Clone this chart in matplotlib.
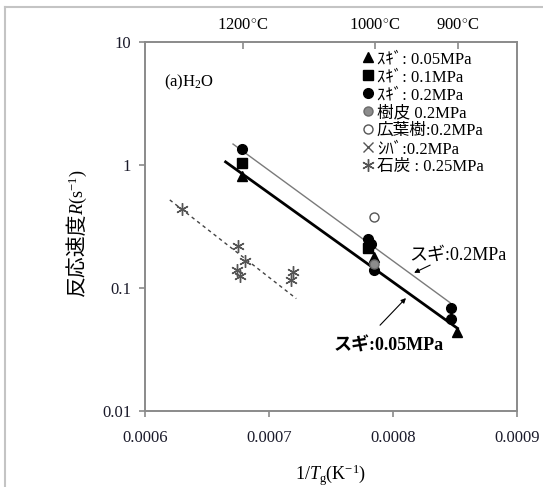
import matplotlib
matplotlib.use('Agg')
import matplotlib.pyplot as plt
from matplotlib.lines import Line2D

plt.rcParams['font.family'] = ['Liberation Serif', 'Noto Sans CJK JP', 'DejaVu Sans']
plt.rcParams['mathtext.fontset'] = 'custom'
plt.rcParams['mathtext.rm'] = 'Liberation Serif'
plt.rcParams['mathtext.it'] = 'Liberation Serif:italic'

# Sugi (cedar) at three pressures
sugi005_x = [0.000678, 0.000785, 0.000852]
sugi005_y = [0.82, 0.177, 0.044]
sugi01_x = [0.000678, 0.000780]
sugi01_y = [1.03, 0.21]
sugi02_x = [0.000678, 0.000780, 0.000782, 0.000785, 0.000847, 0.000847]
sugi02_y = [1.35, 0.25, 0.23, 0.141, 0.069, 0.056]
# other biomass and coal
bark_x = [0.000785]
bark_y = [0.158]
hardwood_x = [0.000785]
hardwood_y = [0.38]
shiba_x = []
shiba_y = []
coal_x = [0.000630, 0.000675, 0.000681, 0.000674, 0.000677, 0.000719, 0.000718]
coal_y = [0.44, 0.22, 0.167, 0.141, 0.126, 0.134, 0.117]

# fitted lines (end points)
fit02_x = [0.000671, 0.000846]
fit02_y = [1.48, 0.076]
fit005_x = [0.000665, 0.000852]
fit005_y = [1.06, 0.047]
fitcoal_x = [0.000620, 0.000722]
fitcoal_y = [0.52, 0.082]

top_temps_c = [1200, 1000, 900]
x_ticks = [0.0006, 0.0007, 0.0008, 0.0009]
y_ticks = [0.01, 0.1, 1, 10]
y_tick_labels = ['0.01', '0.1', '1', '10']

spine_col = '#8a8a8a'

fig = plt.figure(figsize=(5.43, 4.87), dpi=100)
ax = fig.add_axes([145 / 543, 1 - 411 / 487, 372 / 543, 369 / 487])

# fitted lines
ax.plot(fit02_x, fit02_y, color='#7a7a7a', lw=1.0)
ax.plot(fit005_x, fit005_y, color='black', lw=2.0)
ax.plot(fitcoal_x, fitcoal_y, color='#444444', lw=1.0, linestyle=(0, (2.5, 2.5)))

# data points
ax.plot(sugi005_x, sugi005_y, '^', color='black', ms=7, ls='none', label='ｽｷﾞ: 0.05MPa')
ax.plot(sugi01_x, sugi01_y, 's', color='black', ms=6.5, ls='none', label='ｽｷﾞ: 0.1MPa')
ax.plot(sugi02_x, sugi02_y, 'o', color='black', ms=7, ls='none', label='ｽｷﾞ: 0.2MPa')
ax.plot(bark_x, bark_y, 'o', color='#8c8c8c', mec='#6a6a6a', ms=6.5, ls='none', label='樹皮 0.2MPa')
ax.plot(hardwood_x, hardwood_y, 'o', mfc='white', mec='#555555', ms=6.5, ls='none', label='広葉樹:0.2MPa')
ax.plot(shiba_x, shiba_y, 'x', color='#555555', ms=7, ls='none', label='ｼﾊﾞ:0.2MPa')
ax.plot(coal_x, coal_y, marker=(6, 2, 0), color='#555555', ms=9, mew=1.0, ls='none', label='石炭 : 0.25MPa')

ax.set_yscale('log')
ax.set_xlim(0.0006, 0.0009)
ax.set_ylim(0.01, 10)
ax.set_xticks(x_ticks)
ax.set_xticklabels(['%.4f' % v for v in x_ticks])
ax.set_yticks(y_ticks)
ax.set_yticklabels(y_tick_labels)
ax.minorticks_off()
ax.tick_params(axis='both', direction='out', length=4, width=1.2, color=spine_col,
               labelsize=12, labelcolor='#1a1a2a')
ax.tick_params(axis='x', pad=10)
ax.tick_params(axis='y', pad=6)
for s in ax.spines.values():
    s.set_color(spine_col)
    s.set_linewidth(1.4)

ax.set_xlabel('1/$T_{\\rm g}$(K$^{-1}$)', fontsize=13, labelpad=12)

# y label: CJK part and math part as two texts (mathtext has no CJK fallback)
fig.text(77 / 543, 1 - 296 / 487, '反応速度', rotation=90, fontsize=15,
         family=['Noto Sans CJK JP'], ha='center', va='bottom')
fig.text(78 / 543, 1 - 215 / 487, '$R$(s$^{-1}$)', rotation=90, fontsize=13,
         ha='center', va='bottom')

# top axis in gas temperature
top = ax.twiny()
top.set_xlim(ax.get_xlim())
top.set_xticks([1 / (t + 273.15) for t in top_temps_c])
top.set_xticklabels(['%d$^{\\circ}$C' % t for t in top_temps_c])
top.tick_params(axis='x', direction='in', length=5, width=1.2, color=spine_col,
                labelsize=12, pad=6)
for s in top.spines.values():
    s.set_visible(False)

ax.text(0.05, 0.88, '(a)H$_2$O', transform=ax.transAxes, fontsize=12)

leg = ax.legend(loc='upper left', bbox_to_anchor=(0.585, 0.975), frameon=False,
                fontsize=12, handlelength=0.7, handletextpad=0.15, labelspacing=0.12,
                borderpad=0, borderaxespad=0)

# annotations
ax.text(0.000813, 0.185, 'スギ:0.2MPa', fontsize=13, va='center')
ax.annotate('', xy=(0.000815, 0.130), xytext=(0.000832, 0.157),
            arrowprops=dict(arrowstyle='-|>', color='black', lw=0.8, mutation_scale=7))
ax.text(0.000752, 0.034, 'スギ:0.05MPa', fontsize=13, fontweight='bold', va='center')
ax.annotate('', xy=(0.000812, 0.086), xytext=(0.000788, 0.048),
            arrowprops=dict(arrowstyle='-|>', color='black', lw=0.8, mutation_scale=7))

# page frame around the chart
fig.add_artist(Line2D([5 / 543, 5 / 543], [0, 1 - 7 / 487], transform=fig.transFigure,
                      color='#c4c4c4', lw=1.5))
fig.add_artist(Line2D([5 / 543, 1], [1 - 7 / 487, 1 - 7 / 487], transform=fig.transFigure,
                      color='#c4c4c4', lw=1.5))

fig.savefig('out.png', dpi=100)
